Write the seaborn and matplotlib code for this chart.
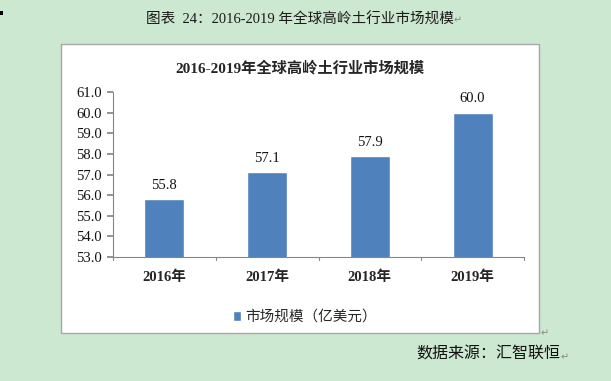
import pandas as pd
import matplotlib
matplotlib.use("Agg")
import matplotlib.pyplot as plt
import seaborn as sns
from matplotlib.patches import Rectangle

# data
years = ['2016年', '2017年', '2018年', '2019年']
market_size = [55.8, 57.1, 57.9, 60.0]
y_ticks = [53.0, 54.0, 55.0, 56.0, 57.0, 58.0, 59.0, 60.0, 61.0]
series_name = '市场规模（亿美元）'

df = pd.DataFrame({'year': years, 'value': market_size})

sns.set_theme(style='white')
plt.rcParams['font.family'] = ['Liberation Serif', 'Noto Sans CJK SC', 'DejaVu Sans']

W, H = 611, 381
bg = '#cde8d0'
bar_color = '#4f81bd'

fig = plt.figure(figsize=(W / 100, H / 100), dpi=100)
fig.patch.set_facecolor(bg)

def fx(x):
    return x / W

def fy(y):
    return 1 - y / H

# white chart box
fig.patches.append(Rectangle((fx(61), fy(333)), fx(539) - fx(61), fy(44) - fy(333),
                             transform=fig.transFigure, facecolor='white',
                             edgecolor='#a6a6a6', linewidth=1, zorder=-5))
# small black mark on the left edge
fig.patches.append(Rectangle((0, fy(15)), fx(3), 4 / H, transform=fig.transFigure,
                             facecolor='black', edgecolor='none', zorder=-5))

ax = fig.add_axes([fx(113), fy(257), fx(524) - fx(113), fy(92) - fy(257)])
ax.set_zorder(2)
ax.set_facecolor('none')
sns.barplot(data=df, x='year', y='value', color=bar_color, width=0.39,
            saturation=1, ax=ax, label=series_name)

ax.set_ylim(53, 61)
ax.set_yticks(y_ticks)
ax.set_yticklabels([f'{t:.1f}' for t in y_ticks], fontsize=10.5, color='#111111')
ax.set_xlim(-0.5, 3.5)
ax.set_xlabel('')
ax.set_ylabel('')
for lab in ax.get_xticklabels():
    lab.set_fontsize(10.5)
    lab.set_fontweight('bold')
ax.tick_params(axis='x', pad=10, length=0)
ax.tick_params(axis='y', pad=4, length=4, direction='out', color='#868686', left=True)
for t in [-0.5, 0.5, 1.5, 2.5, 3.5]:
    ax.plot([t, t], [53, 52.85], color='#868686', lw=0.8, clip_on=False)
for side in ['top', 'right']:
    ax.spines[side].set_visible(False)
for side in ['left', 'bottom']:
    ax.spines[side].set_color('#868686')
    ax.spines[side].set_linewidth(0.8)

for i, v in enumerate(market_size):
    ax.text(i, v + 0.35, f'{v:.1f}', ha='center', va='bottom', fontsize=10.5,
            color='#111111')

leg = ax.legend(loc='upper center', frameon=False, fontsize=10.5,
                handlelength=0.6, handleheight=0.6, handletextpad=0.3)
leg.set_bbox_to_anchor((fx(305), fy(297)), transform=fig.transFigure)

fig.text(fx(300), fy(68), '2016-2019年全球高岭土行业市场规模', ha='center', va='center',
         fontsize=11, fontweight='bold')
fig.text(fx(300), fy(20), '图表  24：2016-2019 年全球高岭土行业市场规模', ha='center',
         va='center', fontsize=10.5, color='#1a1a1a')
fig.text(fx(454), fy(20), '↵', ha='left', va='center', fontsize=7, color='#888888',
         family='DejaVu Sans')
fig.text(fx(416), fy(355), '数据来源：汇智联恒', ha='left', va='center', fontsize=11.5,
         color='#111111')
fig.text(fx(561), fy(357), '↵', ha='left', va='center', fontsize=7, color='#888888',
         family='DejaVu Sans')
fig.text(fx(541), fy(333), '↵', ha='left', va='center', fontsize=7, color='#888888',
         family='DejaVu Sans')

fig.savefig('out.png', dpi=100, facecolor=bg)
